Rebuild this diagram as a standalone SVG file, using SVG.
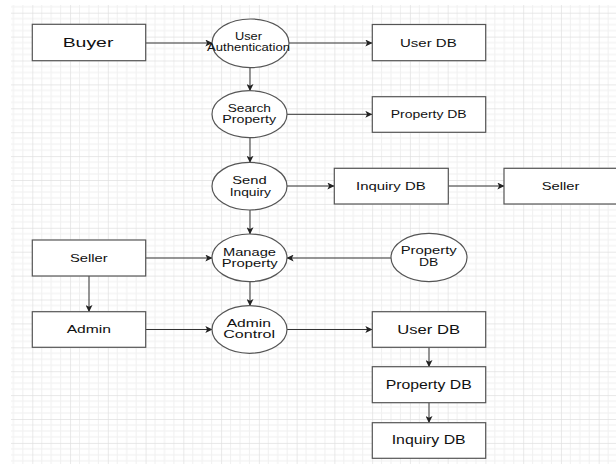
<svg xmlns="http://www.w3.org/2000/svg" width="616" height="464" viewBox="0 0 616 464">
<style>
.box{fill:#fff;stroke:#555;stroke-width:1.2}
.ell{fill:#fff;stroke:#555;stroke-width:1.2}
.t{font-family:"Liberation Sans",Arial,sans-serif;fill:#111}
.c{fill:none;stroke:#333;stroke-width:1;marker-end:url(#arr)}
</style>
<defs>
<marker id="arr" viewBox="0 0 10 10" refX="9.5" refY="5" markerWidth="7" markerHeight="7" markerUnits="userSpaceOnUse" orient="auto">
<path d="M0,0 L10,5 L0,10 L2.5,5 Z" fill="#222"/>
</marker>
<pattern id="grid" patternUnits="userSpaceOnUse" x="32.3" y="12.7" width="37.76" height="23.9">
<g stroke="#f0f0f0" stroke-width="1">
<line x1="9.44" y1="0" x2="9.44" y2="23.9"/>
<line x1="18.88" y1="0" x2="18.88" y2="23.9"/>
<line x1="28.32" y1="0" x2="28.32" y2="23.9"/>
<line x1="0" y1="5.975" x2="37.76" y2="5.975"/>
<line x1="0" y1="11.95" x2="37.76" y2="11.95"/>
<line x1="0" y1="17.925" x2="37.76" y2="17.925"/>
</g>
<g stroke="#e0e0e0" stroke-width="1.4">
<line x1="0" y1="0" x2="0" y2="23.9"/>
<line x1="0" y1="0" x2="37.76" y2="0"/>
</g>
</pattern>
</defs>
<rect x="0" y="0" width="616" height="464" fill="#fff"/>
<rect x="11" y="5" width="605" height="459" fill="url(#grid)"/>

<g id="connectors">
<line class="c" x1="146" y1="43" x2="212" y2="43"/>
<line class="c" x1="289" y1="43" x2="372" y2="43"/>
<line class="c" x1="250" y1="67.7" x2="250" y2="90.7"/>
<line class="c" x1="287" y1="114.3" x2="372" y2="114.3"/>
<line class="c" x1="250" y1="137.7" x2="250" y2="162.4"/>
<line class="c" x1="287" y1="186" x2="334" y2="186"/>
<line class="c" x1="448" y1="186" x2="504" y2="186"/>
<line class="c" x1="250" y1="210" x2="250" y2="234"/>
<line class="c" x1="146" y1="258" x2="212" y2="258"/>
<line class="c" x1="391" y1="258" x2="287" y2="258"/>
<line class="c" x1="89" y1="276" x2="89" y2="311.7"/>
<line class="c" x1="250" y1="281.6" x2="250" y2="305.7"/>
<line class="c" x1="146" y1="329.5" x2="212" y2="329.5"/>
<line class="c" x1="287" y1="329.5" x2="372" y2="329.5"/>
<line class="c" x1="429" y1="347.3" x2="429" y2="366.7"/>
<line class="c" x1="429" y1="402.7" x2="429" y2="422.7"/>
</g>

<g id="buyer">
<rect class="box" x="32.3" y="24.3" width="113.4" height="36.4"/>
<text class="t" x="62.7" y="47.2" font-size="13.5" textLength="50.7" lengthAdjust="spacingAndGlyphs">Buyer</text>
</g>
<g id="user-auth">
<ellipse class="ell" cx="250.5" cy="43.3" rx="38.5" ry="24.3"/>
<text class="t" x="235" y="39.8" font-size="10" textLength="27" lengthAdjust="spacingAndGlyphs">User</text>
<text class="t" x="207" y="50.9" font-size="10" textLength="83" lengthAdjust="spacingAndGlyphs">Authentication</text>
</g>
<g id="user-db-1">
<rect class="box" x="372.3" y="24.5" width="113.4" height="36.2"/>
<text class="t" x="400" y="46.7" font-size="11.5" textLength="56.7" lengthAdjust="spacingAndGlyphs">User DB</text>
</g>
<g id="search-property">
<ellipse class="ell" cx="249.5" cy="114.2" rx="37.5" ry="23.5"/>
<text class="t" x="227.7" y="112.3" font-size="10.5" textLength="43.3" lengthAdjust="spacingAndGlyphs">Search</text>
<text class="t" x="222.3" y="123" font-size="10.5" textLength="53.7" lengthAdjust="spacingAndGlyphs">Property</text>
</g>
<g id="property-db-1">
<rect class="box" x="372.3" y="96.7" width="113.4" height="35.6"/>
<text class="t" x="390.7" y="118.3" font-size="11" textLength="76" lengthAdjust="spacingAndGlyphs">Property DB</text>
</g>
<g id="send-inquiry">
<ellipse class="ell" cx="249.5" cy="186.2" rx="37.5" ry="23.8"/>
<text class="t" x="232.3" y="184" font-size="11" textLength="34.4" lengthAdjust="spacingAndGlyphs">Send</text>
<text class="t" x="229.7" y="195.7" font-size="11" textLength="41.3" lengthAdjust="spacingAndGlyphs">Inquiry</text>
</g>
<g id="inquiry-db-1">
<rect class="box" x="334.3" y="168.3" width="114" height="35.7"/>
<text class="t" x="356" y="189.5" font-size="11.5" textLength="69.7" lengthAdjust="spacingAndGlyphs">Inquiry DB</text>
</g>
<g id="seller-1">
<rect class="box" x="504" y="168.3" width="120" height="35.7"/>
<text class="t" x="541.7" y="189.5" font-size="11.5" textLength="37.7" lengthAdjust="spacingAndGlyphs">Seller</text>
</g>
<g id="seller-2">
<rect class="box" x="32.3" y="240" width="113.4" height="36"/>
<text class="t" x="70" y="261.5" font-size="11.5" textLength="37.7" lengthAdjust="spacingAndGlyphs">Seller</text>
</g>
<g id="manage-property">
<ellipse class="ell" cx="249.5" cy="257.8" rx="37.5" ry="23.8"/>
<text class="t" x="223" y="255.7" font-size="11" textLength="53" lengthAdjust="spacingAndGlyphs">Manage</text>
<text class="t" x="221.7" y="266.7" font-size="11" textLength="56" lengthAdjust="spacingAndGlyphs">Property</text>
</g>
<g id="property-db-store">
<ellipse class="ell" cx="429" cy="257.5" rx="38" ry="24.2"/>
<text class="t" x="400.7" y="254.3" font-size="11" textLength="56" lengthAdjust="spacingAndGlyphs">Property</text>
<text class="t" x="419" y="265.7" font-size="11" textLength="19.3" lengthAdjust="spacingAndGlyphs">DB</text>
</g>
<g id="admin">
<rect class="box" x="32.3" y="311.7" width="113.4" height="35.6"/>
<text class="t" x="66.7" y="332.5" font-size="11.5" textLength="44.3" lengthAdjust="spacingAndGlyphs">Admin</text>
</g>
<g id="admin-control">
<ellipse class="ell" cx="249.5" cy="329.5" rx="37.5" ry="23.8"/>
<text class="t" x="226.7" y="326.7" font-size="11" textLength="44.3" lengthAdjust="spacingAndGlyphs">Admin</text>
<text class="t" x="223.3" y="338.3" font-size="11" textLength="51.7" lengthAdjust="spacingAndGlyphs">Control</text>
</g>
<g id="user-db-2">
<rect class="box" x="372.3" y="311.7" width="113.4" height="35.6"/>
<text class="t" x="397.3" y="333.5" font-size="12" textLength="62.7" lengthAdjust="spacingAndGlyphs">User DB</text>
</g>
<g id="property-db-2">
<rect class="box" x="372.3" y="366.7" width="113.4" height="36"/>
<text class="t" x="385.7" y="388.5" font-size="12" textLength="86" lengthAdjust="spacingAndGlyphs">Property DB</text>
</g>
<g id="inquiry-db-2">
<rect class="box" x="372.3" y="422.7" width="113.4" height="35.6"/>
<text class="t" x="391.7" y="444.3" font-size="12" textLength="74" lengthAdjust="spacingAndGlyphs">Inquiry DB</text>
</g>
</svg>
